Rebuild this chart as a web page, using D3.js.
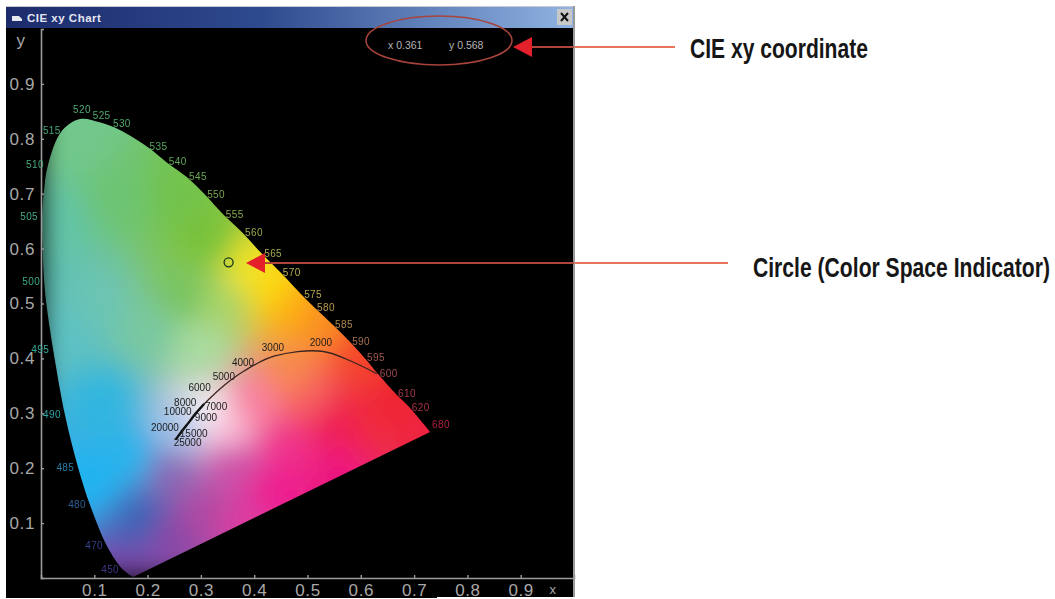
<!DOCTYPE html>
<html>
<head>
<meta charset="utf-8">
<title>CIE xy Chart</title>
<script src="https://cdn.jsdelivr.net/npm/d3@7"></script>
<style>
body { margin: 0; background: #fff; }
svg { display: block; }
text { font-family: "Liberation Sans", Arial, sans-serif; }
.tick-label { fill: #a8a8a8; font-size: 17px; letter-spacing: 0.6px; }
.nm { font-size: 10px; letter-spacing: 0.4px; filter: blur(0.4px); }
.cct { font-size: 10px; fill: #1c1c1c; filter: blur(0.3px); }
.note { font-weight: bold; fill: #161616; font-size: 28px; }
</style>
</head>
<body>
<svg id="chart" width="1055" height="599"></svg>
<script>
// values

// spectral locus, blue end round to the red end ("" = no label on that point)
var locusNm = ["", "450", "470", "480", "485", "490", "495", "", "500", "", "505", "", "510", "515", "520", "525", "530",
    "535", "540", "545", "550", "555", "560", "565", "570", "575", "580", "585", "590", "595", "600", "610", "620", "680"];
var locusX = [0.173, 0.154, 0.124, 0.092, 0.070, 0.045, 0.023, 0.010, 0.006, 0.003, 0.002, 0.005, 0.013, 0.039, 0.073, 0.110, 0.148,
    0.200, 0.236, 0.274, 0.308, 0.343, 0.379, 0.415, 0.450, 0.490, 0.514, 0.548, 0.580, 0.608, 0.632, 0.666, 0.692, 0.730];
var locusY = [0.002, 0.015, 0.058, 0.133, 0.200, 0.297, 0.415, 0.500, 0.539, 0.600, 0.657, 0.700, 0.752, 0.814, 0.836, 0.830, 0.816,
    0.785, 0.757, 0.730, 0.698, 0.661, 0.628, 0.590, 0.556, 0.515, 0.492, 0.461, 0.430, 0.400, 0.372, 0.335, 0.310, 0.266];
var locusColor = ["", "#3d3585", "#34408a", "#2c5f96", "#2a7ea6", "#2fa5a8", "#35b0a0", "", "#3fa88a", "", "#45a985", "", "#45a878", "#45a878",
    "#4ea876", "#4ea870", "#4ea86a", "#55a860", "#60a858", "#68a850", "#78a850", "#88a850", "#98aa50", "#a8aa50", "#b8b050", "#b8a850",
    "#b89850", "#b08850", "#a87050", "#a05a50", "#a04a50", "#a83a50", "#a83048", "#b02040"];

// black body curve
var cctK = [1200, 1500, 2000, 3000, 4000, 5000, 6000, 7000, 8000, 9000, 10000, 15000, 20000, 25000];
var cctX = [0.630, 0.586, 0.527, 0.437, 0.381, 0.345, 0.322, 0.306, 0.295, 0.287, 0.281, 0.264, 0.257, 0.2525];
var cctY = [0.372, 0.393, 0.413, 0.404, 0.377, 0.352, 0.332, 0.317, 0.305, 0.296, 0.288, 0.267, 0.258, 0.252];

// colours of the gamut fill at sampled spots
var mixX = [0.07, 0.02, 0.15, 0.25, 0.31, 0.34, 0.39, 0.43, 0.47, 0.52, 0.60, 0.66, 0.74, 0.05, 0.10, 0.20, 0.30, 0.00, 0.12, 0.10, 0.17, 0.19, 0.16, 0.24, 0.30, 0.38, 0.36, 0.44, 0.46, 0.55, 0.55, 0.35, 0.31, 0.24, 0.26, 0.40, 0.47, 0.27, 0.50, 0.60];
var mixY = [0.80, 0.65, 0.70, 0.70, 0.62, 0.50, 0.56, 0.53, 0.49, 0.47, 0.40, 0.33, 0.27, 0.45, 0.50, 0.45, 0.42, 0.53, 0.32, 0.18, 0.22, 0.11, 0.00, 0.08, 0.12, 0.10, 0.21, 0.16, 0.24, 0.28, 0.19, 0.27, 0.30, 0.19, 0.27, 0.32, 0.37, 0.52, 0.33, 0.30];
var mixColor = ["#72c88c", "#62c4a8", "#6dc472", "#72c34e", "#78c23a", "#a8d46a", "#f2e428", "#fdd80c", "#fcae14", "#fa9020", "#f4442a", "#ee2630", "#ef2442", "#5dc1c3", "#6cc4b4", "#78c8a0", "#a8dca0", "#5dc0b4", "#30b6e0", "#22b4f0", "#28b4ec", "#3f63b6", "#7a44a8", "#8a48a6", "#b04aa4", "#dc3ca0", "#cc50a8", "#ee1c90", "#f0308c", "#ee1c58", "#ec1880", "#fcc0d8", "#f4f0f4", "#8a68b4", "#a8c4e8", "#f880a0", "#f88a50", "#78c460", "#f66060", "#f02c40"];

var xTicks = [0.1, 0.2, 0.3, 0.4, 0.5, 0.6, 0.7, 0.8, 0.9];
var yTicks = [0.1, 0.2, 0.3, 0.4, 0.5, 0.6, 0.7, 0.8, 0.9];
var readoutX = "0.361";
var readoutY = "0.568";
var circleX = [0.352];
var circleY = [0.575];

var svg = d3.select("#chart");

var x = d3.scaleLinear().domain([0, 1]).range([41, 574]);
var y = d3.scaleLinear().domain([0, 1]).range([578, 29]);

// window frame
var defs = svg.append("defs");
var titleGrad = defs.append("linearGradient").attr("id", "title-grad");
titleGrad.append("stop").attr("offset", "0%").attr("stop-color", "#1c2b6b");
titleGrad.append("stop").attr("offset", "45%").attr("stop-color", "#2e4a8e");
titleGrad.append("stop").attr("offset", "100%").attr("stop-color", "#8fb3e2");

svg.append("rect").attr("x", 6).attr("y", 6).attr("width", 569).attr("height", 592).attr("fill", "#000");
svg.append("rect").attr("x", 6).attr("y", 6).attr("width", 569).attr("height", 1.5).attr("fill", "#c8c8d0");
svg.append("rect").attr("x", 6).attr("y", 7).attr("width", 567).attr("height", 21).attr("fill", "url(#title-grad)");
svg.append("rect").attr("x", 573).attr("y", 6).attr("width", 2).attr("height", 592).attr("fill", "#9a9a9a");
svg.append("rect").attr("x", 437).attr("y", 597).attr("width", 138).attr("height", 2).attr("fill", "#fff");

svg.append("path").attr("d", "M12,16 h7 l3,3 v2 h-10 z").attr("fill", "#e8e8f0");
svg.append("text").attr("x", 27).attr("y", 21.5).attr("fill", "#e4e6f2")
    .style("font-size", "11.5px").style("font-weight", "bold").style("letter-spacing", "0.5px")
    .text("CIE xy Chart");

svg.append("rect").attr("x", 557).attr("y", 9).attr("width", 15).attr("height", 16).attr("fill", "#c8c8c8");
svg.append("path").attr("d", "M561,13 l7,8 M568,13 l-7,8").attr("stroke", "#111").attr("stroke-width", 2);

// gamut fill: inverse distance mix of the sampled colours, softened, clipped by the locus
var plotW = 533, plotH = 549;
var canvas = document.createElement("canvas");
canvas.width = plotW;
canvas.height = plotH;
var ctx = canvas.getContext("2d");
var img = ctx.createImageData(plotW, plotH);
var mixRgb = mixColor.map(function(c) { return d3.rgb(c); });
for (var j = 0; j < plotH; j += 1) {
    for (var i = 0; i < plotW; i += 1) {
        var dx = x.invert(41 + i), dy = y.invert(29 + j);
        var r = 0, g = 0, b = 0, wsum = 0;
        for (var k = 0; k < mixRgb.length; k++) {
            var d2 = (dx - mixX[k]) * (dx - mixX[k]) + (dy - mixY[k]) * (dy - mixY[k]) + 0.00005;
            var w = 1 / (d2 * d2);
            r += w * mixRgb[k].r; g += w * mixRgb[k].g; b += w * mixRgb[k].b;
            wsum += w;
        }
        var p = (j * plotW + i) * 4;
        img.data[p] = r / wsum; img.data[p + 1] = g / wsum; img.data[p + 2] = b / wsum; img.data[p + 3] = 255;
    }
}
ctx.putImageData(img, 0, 0);

var locus = locusX.map(function(v, i) { return [x(v), y(locusY[i])]; });
var locusPath = d3.line().curve(d3.curveCatmullRom.alpha(0.5))(locus) + "Z";

defs.append("clipPath").attr("id", "gamut").append("path").attr("d", locusPath);
defs.append("filter").attr("id", "soften")
    .attr("x", "-10%").attr("y", "-10%").attr("width", "120%").attr("height", "120%")
    .append("feGaussianBlur").attr("stdDeviation", 13).attr("edgeMode", "duplicate");
svg.append("g").attr("clip-path", "url(#gamut)")
    .append("image")
    .attr("x", 41).attr("y", 29).attr("width", plotW).attr("height", plotH)
    .attr("filter", "url(#soften)")
    .attr("href", canvas.toDataURL());

// axes
var xAxis = svg.append("g").attr("transform", "translate(0," + y(0) + ")")
    .call(d3.axisBottom(x).tickValues(xTicks).tickSize(-3).tickPadding(7).tickFormat(d3.format(".1f")));
var yAxis = svg.append("g").attr("transform", "translate(" + x(0) + ",0)")
    .call(d3.axisLeft(y).tickValues(yTicks).tickSize(-3).tickPadding(6).tickFormat(d3.format(".1f")));
svg.selectAll(".domain").attr("stroke", "#9c9c9c").attr("stroke-width", 1.6);
svg.selectAll(".tick line").attr("stroke", "#9c9c9c").attr("stroke-width", 1.4);
svg.selectAll(".tick text").attr("class", "tick-label").attr("font-family", null).attr("font-size", null);
xAxis.selectAll("text").attr("dy", "0.62em");

svg.append("text").attr("class", "tick-label").attr("x", 21).attr("y", 46).attr("text-anchor", "middle").text("y");
svg.append("text").attr("class", "tick-label").attr("x", 553).attr("y", 594).attr("text-anchor", "middle")
    .style("font-size", "13px").text("x");

// wavelength labels
var labelled = locusNm.map(function(n, i) { return i; }).filter(function(i) { return locusNm[i] !== ""; });
svg.append("g").selectAll("text").data(labelled).enter().append("text")
    .attr("class", "nm")
    .attr("fill", function(i) { return locusColor[i]; })
    .attr("text-anchor", function(i) {
        var nm = +locusNm[i];
        if (nm < 520) return "end";
        return nm <= 530 ? "middle" : "start";
    })
    .attr("x", function(i) {
        var nm = +locusNm[i];
        if (nm === 515) return x(locusX[i]) - 1;
        if (nm < 520) return x(locusX[i]) - 4;
        return x(locusX[i]) + 2;
    })
    .attr("y", function(i) {
        var nm = +locusNm[i];
        if (nm === 520) return y(locusY[i]) - 6;
        if (nm === 525 || nm === 530) return y(locusY[i]) - 3;
        if (nm === 680) return y(locusY[i]) - 4;
        return y(locusY[i]) + 3;
    })
    .text(function(i) { return locusNm[i]; });

// black body curve, heavier towards the high temperatures
var cctLine = d3.line().curve(d3.curveCatmullRom)
    .x(function(i) { return x(cctX[i]); })
    .y(function(i) { return y(cctY[i]); });
var cctIdx = cctK.map(function(k, i) { return i; });
svg.append("path").attr("d", cctLine(cctIdx)).attr("fill", "none").attr("stroke", "#3a2420").attr("stroke-width", 1.3);
svg.append("path").attr("d", cctLine(cctIdx.slice(7))).attr("fill", "none").attr("stroke", "#111").attr("stroke-width", 2.4);

// above 5000 K the labels crowd, so they fall in two columns either side of the curve
svg.append("g").selectAll("text").data(cctIdx.slice(2)).enter().append("text")
    .attr("class", "cct")
    .attr("text-anchor", "middle")
    .attr("x", function(i) {
        var shift = 0;
        if (cctK[i] > 5000) shift = i % 2 ? 13 : -12;
        return x(cctX[i]) - 1 + shift;
    })
    .attr("y", function(i) {
        var shift = cctK[i] > 5000 && i % 2 ? 6 : -5;
        return y(cctY[i]) + shift;
    })
    .text(function(i) { return cctK[i]; });

// current point
svg.append("g").selectAll("circle").data(circleX).enter().append("circle")
    .attr("cx", function(d) { return x(d); })
    .attr("cy", function(d, i) { return y(circleY[i]); })
    .attr("r", 4.5).attr("fill", "none").attr("stroke", "#17351c").attr("stroke-width", 1.3);

// readout and callouts
svg.append("text").attr("x", 388).attr("y", 49).attr("fill", "#b4b4b4").style("font-size", "10.5px").text("x " + readoutX);
svg.append("text").attr("x", 449).attr("y", 49).attr("fill", "#b4b4b4").style("font-size", "10.5px").text("y " + readoutY);
svg.append("ellipse").attr("cx", 439).attr("cy", 40.5).attr("rx", 73).attr("ry", 24.5)
    .attr("fill", "none").attr("stroke", "#a8443c").attr("stroke-width", 1.5);

function callout(tipX, tipY, baseX, halfH, endX) {
    svg.append("line").attr("x1", baseX).attr("y1", tipY).attr("x2", Math.min(endX, 574)).attr("y2", tipY)
        .attr("stroke", "#b0453a").attr("stroke-width", 2);
    svg.append("line").attr("x1", Math.max(baseX, 575)).attr("y1", tipY).attr("x2", endX).attr("y2", tipY)
        .attr("stroke", "#e8745a").attr("stroke-width", 2);
    svg.append("path").attr("fill", "#e4202a")
        .attr("d", d3.line()([[tipX, tipY], [baseX, tipY - halfH], [baseX, tipY + halfH]]) + "Z");
}
callout(513, 47, 532, 10, 675);
callout(246, 263, 265, 10, 728);

// condensed callout captions: squeeze the bold face to the width they have in the picture
function note(text, left, baseline, width) {
    var t = svg.append("text").attr("class", "note").text(text);
    var sx = width / t.node().getComputedTextLength();
    t.attr("transform", "translate(" + left + "," + baseline + ") scale(" + sx + ",1)");
}
note("CIE xy coordinate", 690, 58, 178);
note("Circle (Color Space Indicator)", 753, 277, 297);
</script>
</body>
</html>
